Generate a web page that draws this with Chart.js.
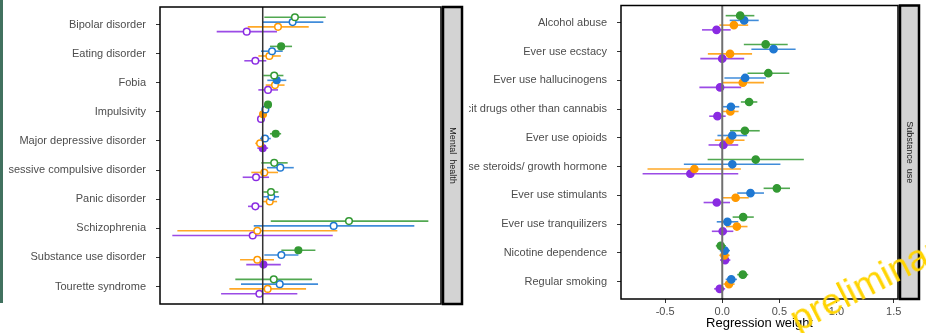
<!DOCTYPE html>
<html>
<head>
<meta charset="utf-8">
<script src="https://cdn.jsdelivr.net/npm/chart.js@4.4.1/dist/chart.umd.min.js"></script>
<style>
  html, body { margin: 0; padding: 0; background: #fff; }
  body { width: 926px; height: 333px; position: relative; overflow: hidden; font-family: "Liberation Sans", Arial, sans-serif; }
  #edge { position: absolute; left: 0; top: 0; width: 3px; height: 303px; background: #41715f; }
  #leftBox { position: absolute; left: 8px; top: 0; }
  #rightBox { position: absolute; left: 469px; top: 0; }
  #stamp { position: absolute; left: 784px; top: 305px; font-size: 37px; line-height: 1; color: #ffd400;
           transform: rotate(-27deg); transform-origin: 0 0; white-space: nowrap; }
</style>
</head>
<body>
<div id="edge"></div>
<div id="leftBox"><canvas id="mentalChart" width="458" height="333"></canvas></div>
<div id="rightBox"><canvas id="substanceChart" width="457" height="333"></canvas></div>
<div id="stamp">preliminary</div>
<script>
(function () {
  'use strict'

  // Mental health outcomes
  const mhLabels = ['Bipolar disorder', 'Eating disorder', 'Fobia', 'Impulsivity', 'Major depressive disorder',
    'Obsessive compulsive disorder', 'Panic disorder', 'Schizophrenia', 'Substance use disorder', 'Tourette syndrome']

  const mhGreen        = [0.28, 0.16, 0.10, 0.046, 0.113, 0.10, 0.072, 0.75, 0.31, 0.096]
  const mhGreenLo      = [0.014, 0.063, 0.005, 0.03, 0.063, -0.012, 0.005, 0.07, 0.162, -0.238]
  const mhGreenHi      = [0.548, 0.255, 0.18, 0.063, 0.16, 0.217, 0.136, 1.44, 0.458, 0.429]
  const mhGreenFilled  = [0, 1, 0, 1, 1, 0, 0, 0, 1, 0]

  const mhBlue         = [0.26, 0.081, 0.122, 0.023, 0.02, 0.153, 0.075, 0.617, 0.162, 0.148]
  const mhBlueLo       = [0.0, -0.015, 0.04, 0.005, -0.024, 0.037, 0.005, -0.078, 0.014, -0.189]
  const mhBlueHi       = [0.527, 0.174, 0.205, 0.043, 0.07, 0.27, 0.142, 1.318, 0.31, 0.481]
  const mhBlueFilled   = [0, 0, 1, 0, 0, 0, 0, 0, 0, 0]

  const mhOrange       = [0.133, 0.058, 0.107, 0.003, -0.023, 0.014, 0.061, -0.047, -0.047, 0.043]
  const mhOrangeLo     = [-0.13, -0.038, 0.026, -0.012, -0.065, -0.099, 0.0, -0.742, -0.197, -0.29]
  const mhOrangeHi     = [0.40, 0.157, 0.19, 0.02, 0.01, 0.133, 0.125, 0.649, 0.098, 0.377]
  const mhOrangeFilled = [0, 0, 0, 1, 0, 0, 0, 0, 0, 0]

  const mhPurple       = [-0.139, -0.064, 0.046, -0.015, 0.0, -0.058, -0.064, -0.087, 0.006, -0.029]
  const mhPurpleLo     = [-0.40, -0.16, -0.038, -0.03, -0.047, -0.174, -0.128, -0.786, -0.143, -0.362]
  const mhPurpleHi     = [0.124, 0.031, 0.133, 0.003, 0.047, 0.055, 0.0, 0.609, 0.157, 0.301]
  const mhPurpleFilled = [0, 0, 0, 0, 1, 0, 0, 0, 1, 0]

  // Substance use outcomes
  const suLabels = ['Alcohol abuse', 'Ever use ecstacy', 'Ever use hallucinogens', 'Ever use illicit drugs other than cannabis',
    'Ever use opioids', 'Ever use steroids/ growth hormone', 'Ever use stimulants', 'Ever use tranquilizers',
    'Nicotine dependence', 'Regular smoking']

  const suGreen    = [0.157, 0.38, 0.403, 0.235, 0.198, 0.293, 0.478, 0.183, -0.013, 0.18]
  const suGreenLo  = [0.03, 0.189, 0.221, 0.163, 0.068, -0.128, 0.362, 0.091, -0.056, 0.131]
  const suGreenHi  = [0.281, 0.573, 0.587, 0.307, 0.328, 0.714, 0.593, 0.276, 0.033, 0.227]

  const suBlue     = [0.192, 0.449, 0.2, 0.076, 0.088, 0.088, 0.247, 0.045, 0.022, 0.079]
  const suBlueLo   = [0.065, 0.255, 0.019, 0.004, -0.042, -0.336, 0.131, -0.048, -0.022, 0.03]
  const suBlueHi   = [0.319, 0.642, 0.382, 0.149, 0.218, 0.509, 0.365, 0.14, 0.068, 0.128]

  const suOrange   = [0.102, 0.068, 0.18, 0.071, 0.065, -0.244, 0.117, 0.128, 0.019, 0.059]
  const suOrangeLo = [-0.025, -0.126, 0.0, 0.0, -0.065, -0.654, 0.0, 0.033, -0.025, 0.01]
  const suOrangeHi = [0.227, 0.261, 0.365, 0.143, 0.195, 0.163, 0.232, 0.221, 0.065, 0.108]

  const suPurple   = [-0.05, 0.0, -0.019, -0.042, 0.01, -0.279, -0.048, 0.004, 0.025, -0.022]
  const suPurpleLo = [-0.177, -0.192, -0.2, -0.114, -0.12, -0.697, -0.163, -0.091, -0.019, -0.071]
  const suPurpleHi = [0.074, 0.192, 0.166, 0.03, 0.14, 0.14, 0.068, 0.097, 0.071, 0.025]

  const xTickValues = [-0.5, 0, 0.5, 1, 1.5]

  const colours = ['#339933', '#1f78d2', '#ff9900', '#8a2be2']
  const barColours = ['rgba(51,153,51,0.85)', 'rgba(31,120,210,0.85)', 'rgba(255,153,0,0.85)', 'rgba(138,43,226,0.85)']
  const dodge = [-0.247, -0.082, 0.082, 0.247]
  const labelFont = { family: '"Liberation Sans", Arial, sans-serif', size: 11 }

  function series(s, est, lo, hi, filled, radius) {
    return {
      data: est.map((v, i) => ({ x: v, y: i + dodge[s], lo: lo[i], hi: hi[i] })),
      barColour: barColours[s],
      pointRadius: radius,
      pointBorderWidth: 1.5,
      pointBorderColor: colours[s],
      pointBackgroundColor: est.map((v, i) => (filled && !filled[i]) ? '#ffffff' : colours[s]),
      showLine: false
    }
  }

  // horizontal confidence intervals, drawn under the points
  const errorBars = {
    id: 'errorBars',
    beforeDatasetsDraw(chart) {
      const { ctx, scales: { x, y } } = chart
      ctx.save()
      ctx.lineWidth = 1.6
      chart.data.datasets.forEach(ds => {
        ctx.strokeStyle = ds.barColour
        ds.data.forEach(p => {
          const py = y.getPixelForValue(p.y)
          ctx.beginPath()
          ctx.moveTo(x.getPixelForValue(p.lo), py)
          ctx.lineTo(x.getPixelForValue(p.hi), py)
          ctx.stroke()
        })
      })
      ctx.restore()
    }
  }

  // zero line, panel box and the grey facet strip on the right
  const panelFrame = {
    id: 'panelFrame',
    afterDatasetsDraw(chart, args, opts) {
      const { ctx, chartArea: a, scales: { x } } = chart
      const x0 = x.getPixelForValue(0)
      ctx.save()
      ctx.strokeStyle = opts.zeroColour
      ctx.lineWidth = opts.zeroWidth
      ctx.beginPath()
      ctx.moveTo(x0, a.top)
      ctx.lineTo(x0, a.bottom)
      ctx.stroke()

      ctx.strokeStyle = '#000'
      ctx.lineWidth = 1.5
      ctx.strokeRect(a.left, a.top, a.right - a.left, a.bottom - a.top)

      const sx = a.right + 2, sw = 19
      ctx.fillStyle = '#d3d3d3'
      ctx.fillRect(sx, a.top, sw, a.bottom - a.top)
      ctx.lineWidth = 2.5
      ctx.strokeRect(sx, a.top, sw, a.bottom - a.top)

      ctx.translate(sx + sw / 2, (a.top + a.bottom) / 2)
      ctx.rotate(Math.PI / 2)
      ctx.fillStyle = '#1a1a1a'
      ctx.font = '9px "Liberation Sans", Arial, sans-serif'
      ctx.textAlign = 'center'
      ctx.textBaseline = 'middle'
      ctx.fillText(opts.title, 0, 0)
      ctx.restore()
    }
  }

  function yAxis(labels) {
    return {
      type: 'linear',
      reverse: true,
      min: -0.6,
      max: 9.6,
      afterBuildTicks: s => { s.ticks = labels.map((_, i) => ({ value: i })) },
      afterFit: s => { s.width = 152; s.paddingTop = 0; s.paddingBottom = 0 },
      ticks: { autoSkip: false, padding: 10, color: '#4d4d4d', font: labelFont, callback: v => labels[v] },
      grid: { drawOnChartArea: false, drawTicks: true, tickLength: 4, color: '#333' },
      border: { display: false }
    }
  }

  const mentalCtx = document.getElementById('mentalChart')
  new Chart(mentalCtx, {
    type: 'scatter',
    data: {
      datasets: [
        series(0, mhGreen, mhGreenLo, mhGreenHi, mhGreenFilled, 3.3),
        series(1, mhBlue, mhBlueLo, mhBlueHi, mhBlueFilled, 3.3),
        series(2, mhOrange, mhOrangeLo, mhOrangeHi, mhOrangeFilled, 3.3),
        series(3, mhPurple, mhPurpleLo, mhPurpleHi, mhPurpleFilled, 3.3)
      ]
    },
    options: {
      responsive: false,
      animation: false,
      layout: { padding: { top: 7, right: 25, bottom: 29, left: 0 } },
      plugins: {
        legend: { display: false },
        tooltip: { enabled: false },
        panelFrame: { title: 'Mental  health', zeroColour: '#333', zeroWidth: 1.5 }
      },
      scales: {
        x: { type: 'linear', min: -0.893, max: 1.55, display: false },
        y: yAxis(mhLabels)
      }
    },
    plugins: [errorBars, panelFrame]
  })

  const substanceCtx = document.getElementById('substanceChart')
  new Chart(substanceCtx, {
    type: 'scatter',
    data: {
      datasets: [
        series(0, suGreen, suGreenLo, suGreenHi, null, 3.6),
        series(1, suBlue, suBlueLo, suBlueHi, null, 3.6),
        series(2, suOrange, suOrangeLo, suOrangeHi, null, 3.6),
        series(3, suPurple, suPurpleLo, suPurpleHi, null, 3.6)
      ]
    },
    options: {
      responsive: false,
      animation: false,
      layout: { padding: { top: 5, right: 28, bottom: 0, left: 0 } },
      plugins: {
        legend: { display: false },
        tooltip: { enabled: false },
        panelFrame: { title: 'Substance  use', zeroColour: '#707070', zeroWidth: 2 }
      },
      scales: {
        x: {
          type: 'linear',
          min: -0.886,
          max: 1.538,
          afterBuildTicks: s => { s.ticks = xTickValues.map(v => ({ value: v })) },
          afterFit: s => { s.height = 34; s.paddingLeft = 0; s.paddingRight = 0 },
          ticks: { padding: 2, color: '#4d4d4d', font: labelFont, callback: v => v.toFixed(1) },
          grid: { drawOnChartArea: false, drawTicks: true, tickLength: 4, color: '#333' },
          border: { display: false },
          title: { display: true, text: 'Regression weight', color: '#000',
                   font: { family: '"Liberation Sans", Arial, sans-serif', size: 13 }, padding: { top: 0, bottom: 2 } }
        },
        y: yAxis(suLabels)
      }
    },
    plugins: [errorBars, panelFrame]
  })
})()
</script>
</body>
</html>
